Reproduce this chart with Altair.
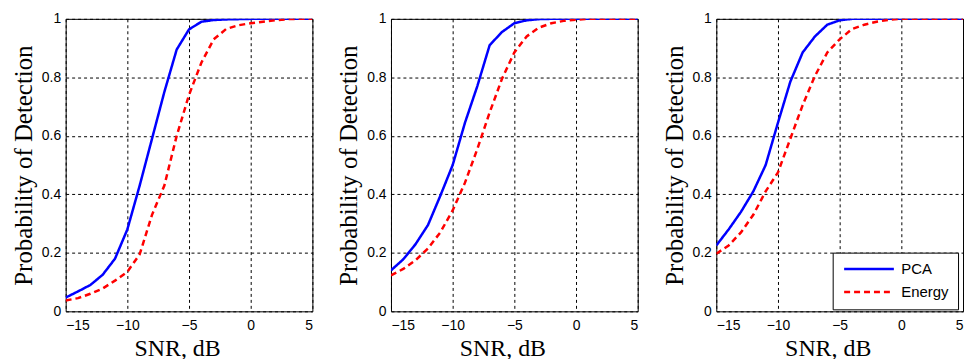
import altair as alt
import pandas as pd

snr = [-15, -14, -13, -12, -11, -10, -9, -8, -7, -6, -5, -4, -3, -2, -1, 0, 1, 2, 3, 4, 5]

p1_pca = [0.047, 0.068, 0.09, 0.125, 0.18, 0.28, 0.43, 0.59, 0.75, 0.895, 0.964, 0.99, 0.996, 0.998, 0.999, 1, 1, 1, 1, 1, 1]
p1_energy = [0.037, 0.045, 0.06, 0.078, 0.105, 0.135, 0.195, 0.33, 0.43, 0.6, 0.74, 0.85, 0.93, 0.965, 0.978, 0.985, 0.99, 0.995, 0.999, 1, 1]

p2_pca = [0.14, 0.178, 0.23, 0.295, 0.395, 0.5, 0.645, 0.77, 0.91, 0.955, 0.985, 0.995, 0.999, 1, 1, 1, 1, 1, 1, 1, 1]
p2_energy = [0.123, 0.145, 0.175, 0.215, 0.27, 0.345, 0.44, 0.555, 0.68, 0.795, 0.885, 0.94, 0.97, 0.985, 0.993, 0.997, 1, 1, 1, 1, 1]

p3_pca = [0.225, 0.28, 0.34, 0.41, 0.5, 0.645, 0.785, 0.885, 0.94, 0.98, 0.995, 1, 1, 1, 1, 1, 1, 1, 1, 1, 1]
p3_energy = [0.197, 0.225, 0.27, 0.33, 0.41, 0.475, 0.59, 0.705, 0.805, 0.885, 0.93, 0.965, 0.98, 0.99, 0.997, 1, 1, 1, 1, 1, 1]

series_names = ["PCA", "Energy"]
series_colors = ["#0000ff", "#ff0000"]
x_ticks = [-15, -10, -5, 0, 5]
y_ticks = [0, 0.2, 0.4, 0.6, 0.8, 1]
x_title = "SNR, dB"
y_title = "Probability of Detection"


def make_df(pca, energy):
    rows = []
    for x, v in zip(snr, pca):
        rows.append({"snr": x, "pd": v, "series": "PCA"})
    for x, v in zip(snr, energy):
        rows.append({"snr": x, "pd": v, "series": "Energy"})
    return pd.DataFrame(rows)


def panel(pca, energy, show_legend):
    df = make_df(pca, energy)
    if show_legend:
        leg = alt.Legend(title=None, orient="none", legendX=117, legendY=235,
                         fillColor="white", strokeColor="black", padding=9,
                         symbolType="M-1,0H9", symbolSize=100, symbolStrokeWidth=2.5,
                         labelFont="Liberation Sans", labelFontSize=15, labelColor="black",
                         labelOffset=45, rowPadding=7)
    else:
        leg = None
    return alt.Chart(df).mark_line(strokeWidth=2.5, clip=True).encode(
        x=alt.X("snr:Q", scale=alt.Scale(domain=[-15, 5], nice=False, zero=False),
                axis=alt.Axis(values=x_ticks, title=x_title, format="d",
                              titleFontSize=24, labelPadding=7,
                              titleX=112, titleY=44, titleBaseline="alphabetic",
                              titleAlign="center")),
        y=alt.Y("pd:Q", scale=alt.Scale(domain=[0, 1], nice=False),
                axis=alt.Axis(values=y_ticks, title=y_title, format="~g",
                              titleFontSize=25, labelPadding=5, titlePadding=5)),
        color=alt.Color("series:N", scale=alt.Scale(domain=series_names, range=series_colors),
                        legend=leg, sort=series_names),
        strokeDash=alt.StrokeDash("series:N", scale=alt.Scale(domain=series_names, range=[[1, 0], [6, 4]]),
                                  legend=leg, sort=series_names),
    ).properties(width=248, height=294)


c1 = panel(p1_pca, p1_energy, False)
c2 = panel(p2_pca, p2_energy, False)
c3 = panel(p3_pca, p3_energy, True)

chart = alt.hconcat(c1, c2, c3, spacing=23).resolve_scale(
    color="independent", strokeDash="independent"
).properties(
    padding={"left": 11, "top": 10, "right": 2, "bottom": 0},
    background="white",
).configure_view(
    stroke="black", strokeWidth=1
).configure_axis(
    labelFont="Liberation Sans", labelFontSize=14, labelColor="black",
    titleFont="Liberation Serif", titleFontWeight="normal", titleColor="black",
    grid=True, gridColor="black", gridDash=[3, 3], gridOpacity=1, gridWidth=1,
    domain=False, ticks=False,
)

chart.save("out.html", embed_options={"renderer": "svg", "actions": False})
